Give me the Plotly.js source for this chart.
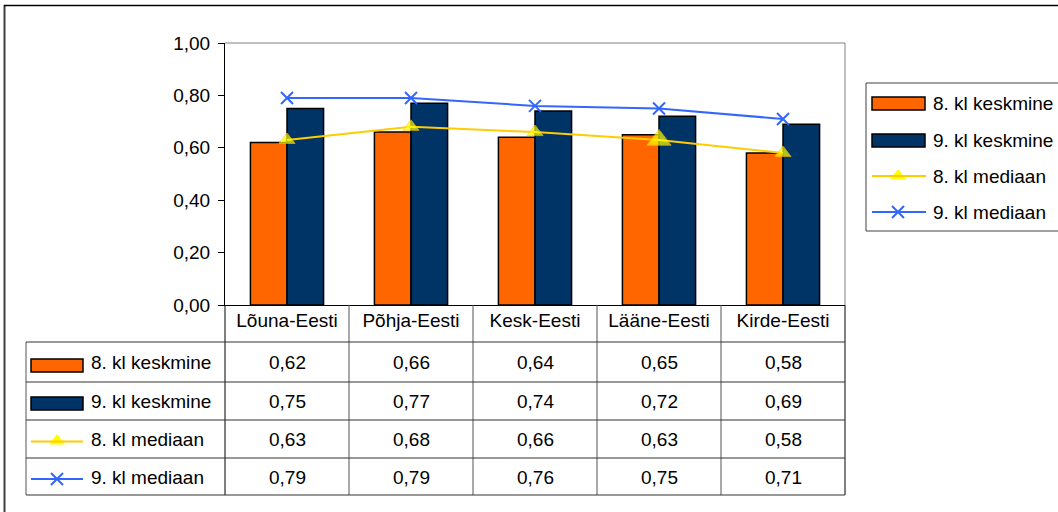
<!DOCTYPE html>
<html><head><meta charset="utf-8">
<script src="https://cdn.plot.ly/plotly-3.0.1.min.js"></script>
<style>html,body{margin:0;padding:0;background:#fff}#chart{width:1058px;height:512px}</style>
</head><body><div id="chart"></div>
<script>
const categories = ['Lõuna-Eesti', 'Põhja-Eesti', 'Kesk-Eesti', 'Lääne-Eesti', 'Kirde-Eesti'];
const kesk8 = [0.62, 0.66, 0.64, 0.65, 0.58];
const kesk9 = [0.75, 0.77, 0.74, 0.72, 0.69];
const med8 = [0.63, 0.68, 0.66, 0.63, 0.58];
const med9 = [0.79, 0.79, 0.76, 0.75, 0.71];
const seriesNames = ['8. kl keskmine', '9. kl keskmine', '8. kl mediaan', '9. kl mediaan'];
const yTicks = [0, 0.2, 0.4, 0.6, 0.8, 1.0];

const W = 1058, H = 512;
const FONT = 'Liberation Sans, Arial, sans-serif';
const FS = 19;
const plotL = 225, plotR = 845, plotT = 43, plotB = 305;
const colW = (plotR - plotL) / categories.length;
const rowLines = [342, 382, 420, 458, 495];
const rowCenters = [362, 401, 439, 477];
const legRows = [103.5, 140.5, 176, 212];
const C8 = '#FF6600', C9 = '#003366', CY = '#FFCC00', CYM = '#FFFF00', CB = '#3366FF';
const fmt = v => v.toFixed(2).replace('.', ',');

const traces = [
  {type: 'bar', name: seriesNames[0], x: categories, y: kesk8, marker: {color: C8, line: {color: '#000', width: 1.5}}, showlegend: false},
  {type: 'bar', name: seriesNames[1], x: categories, y: kesk9, marker: {color: C9, line: {color: '#000', width: 1.5}}, showlegend: false},
  {type: 'scatter', mode: 'lines+markers', name: seriesNames[2], x: categories, y: med8,
   line: {color: CY, width: 2}, marker: {symbol: 'triangle-up', color: CYM, size: [14, 14, 14, 21, 14]}, showlegend: false},
  {type: 'scatter', mode: 'lines+markers', name: seriesNames[3], x: categories, y: med9,
   line: {color: CB, width: 2}, marker: {symbol: 'x-thin-open', color: CB, size: 12, line: {color: CB, width: 2}}, showlegend: false},
  // legend keys (pixel overlay)
  {type: 'scatter', mode: 'markers', xaxis: 'x2', yaxis: 'y2', x: [57, 898], y: [441, 176], hoverinfo: 'skip',
   marker: {symbol: 'triangle-up', color: CYM, size: 14}, showlegend: false},
  {type: 'scatter', mode: 'markers', xaxis: 'x2', yaxis: 'y2', x: [57, 898], y: [479, 212], hoverinfo: 'skip',
   marker: {symbol: 'x-thin-open', color: CB, size: 12, line: {color: CB, width: 2}}, showlegend: false}
];

const shapes = [];
const ln = (x0, y0, x1, y1, color, width) => shapes.push({type: 'line', xref: 'x2', yref: 'y2', x0, y0, x1, y1, line: {color, width}});
// outer frame
ln(4.5, 5, 4.5, H + 5, '#404040', 2);
ln(4, 5.5, W + 5, 5.5, '#000', 1.5);
// plot border top/right
ln(plotL, plotT, plotR, plotT, '#808080', 1);
ln(plotR, plotT, plotR, plotB, '#808080', 1);
// table verticals
for (let i = 0; i <= categories.length; i++) {
  const x = plotL + i * colW;
  ln(x, plotB, x, rowLines[rowLines.length - 1], i === 0 || i === categories.length ? '#000' : '#555', 1);
}
ln(26, rowLines[0], 26, rowLines[rowLines.length - 1], '#555', 1);
rowLines.forEach(y => ln(26, y, plotR, y, '#333', 1));
// right legend box
shapes.push({type: 'rect', xref: 'x2', yref: 'y2', x0: 866, y0: 83, x1: W + 10, y1: 231, line: {color: '#404040', width: 1}, fillcolor: 'rgba(0,0,0,0)'});
// key rects
const rect = (x0, y0, x1, y1, fill) => shapes.push({type: 'rect', xref: 'x2', yref: 'y2', x0, y0, x1, y1, fillcolor: fill, line: {color: '#000', width: 1.5}});
rect(31, 359, 83, 372, C8); rect(31, 397, 83, 410, C9);
rect(872, 97, 925, 110, C8); rect(872, 134, 925, 147, C9);
ln(31, 441.5, 83, 441.5, CY, 2); ln(31, 479, 83, 479, CB, 2);
ln(872, 176, 926, 176, CY, 2); ln(872, 212, 926, 212, CB, 2);

const annotations = [];
const txt = (x, y, text, xanchor) => annotations.push({xref: 'x2', yref: 'y2', x, y, text, xanchor, yanchor: 'middle', showarrow: false, font: {family: FONT, size: FS, color: '#000'}});
const rows = [kesk8, kesk9, med8, med9];
rows.forEach((arr, r) => {
  txt(89, rowCenters[r], seriesNames[r], 'left');
  arr.forEach((v, c) => txt(plotL + (c + 0.5) * colW, rowCenters[r], fmt(v), 'center'));
  txt(931, legRows[r], seriesNames[r], 'left');
});

const layout = {
  width: W, height: H,
  margin: {l: 0, r: 0, t: 0, b: 0, pad: 0},
  paper_bgcolor: '#fff', plot_bgcolor: 'rgba(0,0,0,0)',
  separators: ', ',
  font: {family: FONT, size: FS, color: '#000'},
  barmode: 'group', bargap: 0.41, bargroupgap: 0,
  showlegend: false,
  xaxis: {domain: [plotL / W, plotR / W], anchor: 'y', type: 'category', showline: true, linecolor: '#000', linewidth: 1,
          ticks: '', showgrid: false, zeroline: false, tickfont: {size: FS}, ticklabelstandoff: -2, fixedrange: true},
  yaxis: {domain: [1 - plotB / H, 1 - plotT / H], anchor: 'x', range: [0, 1], tickvals: yTicks, tickformat: '.2f',
          ticks: 'outside', ticklen: 6, tickcolor: '#000', showline: true, linecolor: '#000', linewidth: 1,
          showgrid: false, zeroline: false, tickfont: {size: FS}, ticklabelstandoff: 4, fixedrange: true},
  xaxis2: {domain: [0, 1], anchor: 'y2', range: [0, W], visible: false, fixedrange: true},
  yaxis2: {domain: [0, 1], anchor: 'x2', range: [H, 0], visible: false, fixedrange: true},
  shapes, annotations
};

Plotly.newPlot('chart', traces, layout, {displayModeBar: false, staticPlot: true});
</script></body></html>
